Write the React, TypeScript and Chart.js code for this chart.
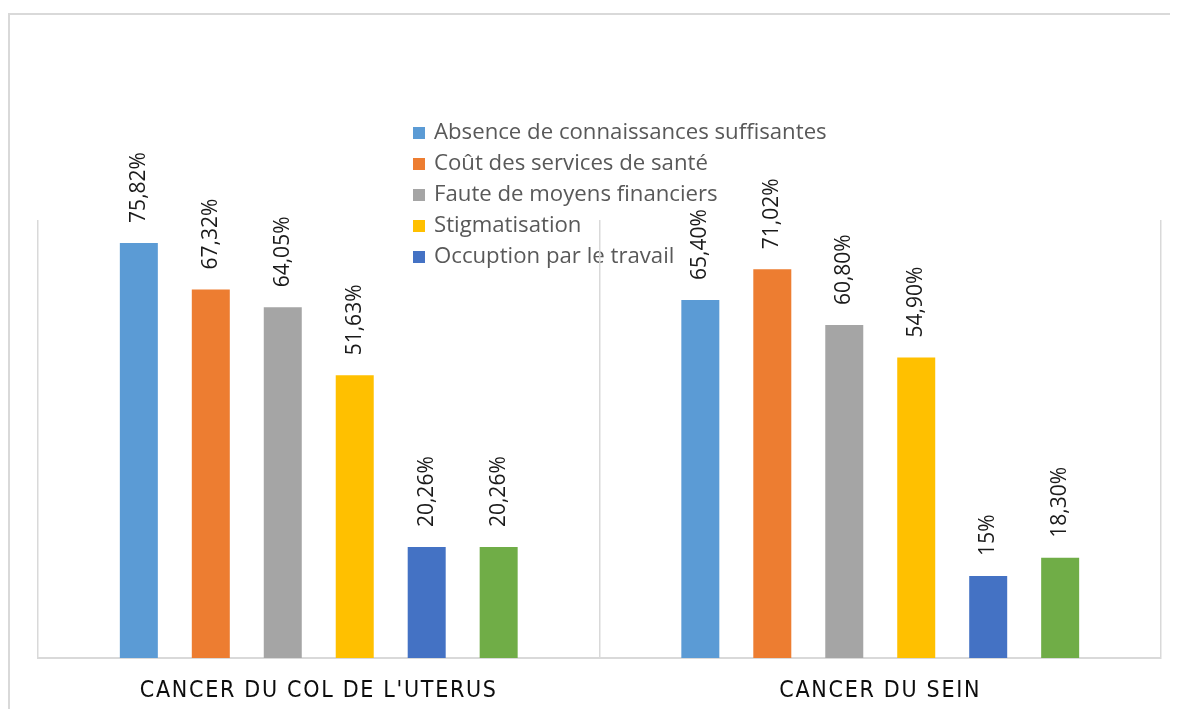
import React, { useEffect, useRef } from "react";
import { Chart, registerables } from "chart.js";

Chart.register(...registerables);

// ---- data ----
const categories = ["CANCER DU COL DE L'UTERUS", "CANCER DU SEIN"];
const seriesNames = [
  "Absence de connaissances suffisantes",
  "Coût des services de santé",
  "Faute de moyens financiers",
  "Stigmatisation",
  "Occuption par le travail",
  "Autres",
];
const absenceValues = [75.82, 65.4];
const coutValues = [67.32, 71.02];
const fauteValues = [64.05, 60.8];
const stigmaValues = [51.63, 54.9];
const occupationValues = [20.26, 15];
const autresValues = [20.26, 18.3];

const absenceLabels = ["75,82%", "65,40%"];
const coutLabels = ["67,32%", "71,02%"];
const fauteLabels = ["64,05%", "60,80%"];
const stigmaLabels = ["51,63%", "54,90%"];
const occupationLabels = ["20,26%", "15%"];
const autresLabels = ["20,26%", "18,30%"];

const yMin = 0;
const yMax = 80;
const legendItemCount = 5;

const seriesValues = [absenceValues, coutValues, fauteValues, stigmaValues, occupationValues, autresValues];
const seriesLabels = [absenceLabels, coutLabels, fauteLabels, stigmaLabels, occupationLabels, autresLabels];
const seriesColors = ["#5B9BD5", "#ED7D31", "#A5A5A5", "#FFC000", "#4472C4", "#70AD47"];

const overlayPlugin = {
  id: "overlayLegend",
  beforeDraw(chart: any, _args: any, opts: any) {
    const ctx = chart.ctx;
    ctx.save();
    ctx.font = `${opts.fontSize}px "Open Sans", sans-serif`;
    ctx.textBaseline = "middle";
    ctx.textAlign = "left";
    chart.data.datasets.slice(0, opts.count).forEach((ds: any, i: number) => {
      const y = opts.y + i * opts.rowHeight;
      ctx.fillStyle = ds.backgroundColor;
      ctx.fillRect(opts.x, y - opts.box / 2, opts.box, opts.box);
      ctx.fillStyle = opts.color;
      ctx.fillText(ds.label, opts.x + opts.box + opts.gap, y);
    });
    ctx.restore();
    ctx.letterSpacing = opts.tickLetterSpacing;
  },
  beforeDatasetsDraw(chart: any) {
    chart.ctx.letterSpacing = "0px";
  },
};

const valueLabelPlugin = {
  id: "valueLabels",
  afterDatasetsDraw(chart: any, _args: any, opts: any) {
    const ctx = chart.ctx;
    ctx.save();
    ctx.letterSpacing = "0px";
    ctx.font = `${opts.fontSize}px "Open Sans", sans-serif`;
    ctx.fillStyle = opts.color;
    ctx.textAlign = "left";
    ctx.textBaseline = "middle";
    chart.data.datasets.forEach((_ds: any, di: number) => {
      const meta = chart.getDatasetMeta(di);
      meta.data.forEach((bar: any, i: number) => {
        ctx.save();
        ctx.translate(bar.x, bar.y - opts.offset);
        ctx.rotate(-Math.PI / 2);
        ctx.fillText(seriesLabels[di][i], 0, 0);
        ctx.restore();
      });
    });
    ctx.restore();
  },
};

export default function App() {
  const ref = useRef<HTMLCanvasElement>(null);

  useEffect(() => {
    document.documentElement.style.overflow = "hidden";
    document.body.style.overflow = "hidden";
    const canvas = ref.current!;
    const chart = new Chart(canvas, {
      type: "bar",
      data: {
        labels: categories,
        datasets: seriesNames.map((name, i) => ({
          label: name,
          data: seriesValues[i],
          backgroundColor: seriesColors[i],
          borderWidth: 0,
          categoryPercentage: 0.769,
          barPercentage: 0.528,
        })),
      },
      options: {
        responsive: false,
        animation: false,
        layout: { padding: { left: 28, right: 17, top: 205, bottom: 7 } },
        plugins: {
          legend: { display: false },
          tooltip: { enabled: false },
          overlayLegend: {
            x: 403,
            y: 118,
            rowHeight: 31,
            box: 12,
            gap: 9,
            count: legendItemCount,
            fontSize: 22.2,
            color: "#595959",
            tickLetterSpacing: "1.7px",
          },
          valueLabels: { fontSize: 21, color: "#1a1a1a", offset: 20 },
        } as any,
        scales: {
          x: {
            grid: {
              offset: true,
              drawTicks: false,
              color: "#d9d9d9",
              lineWidth: 1.5,
            },
            border: { display: true, color: "#d9d9d9", width: 2 },
            ticks: {
              color: "#0d0d0d",
              padding: 19,
              font: { family: '"Liberation Sans Narrow", "DejaVu Sans Condensed", sans-serif', size: 23 },
            },
            afterFit: (scale: any) => {
              scale.height = 50;
            },
          },
          y: {
            display: false,
            min: yMin,
            max: yMax,
          },
        },
      },
      plugins: [overlayPlugin, valueLabelPlugin],
    });
    return () => chart.destroy();
  }, []);

  return (
    <div
      style={{
        position: "relative",
        top: 5,
        width: 1168,
        height: 699,
        borderLeft: "2px solid #d9d9d9",
        borderTop: "2px solid #d9d9d9",
        background: "#fff",
      }}
    >
      <canvas ref={ref} width={1168} height={700} style={{ display: "block" }} />
    </div>
  );
}
